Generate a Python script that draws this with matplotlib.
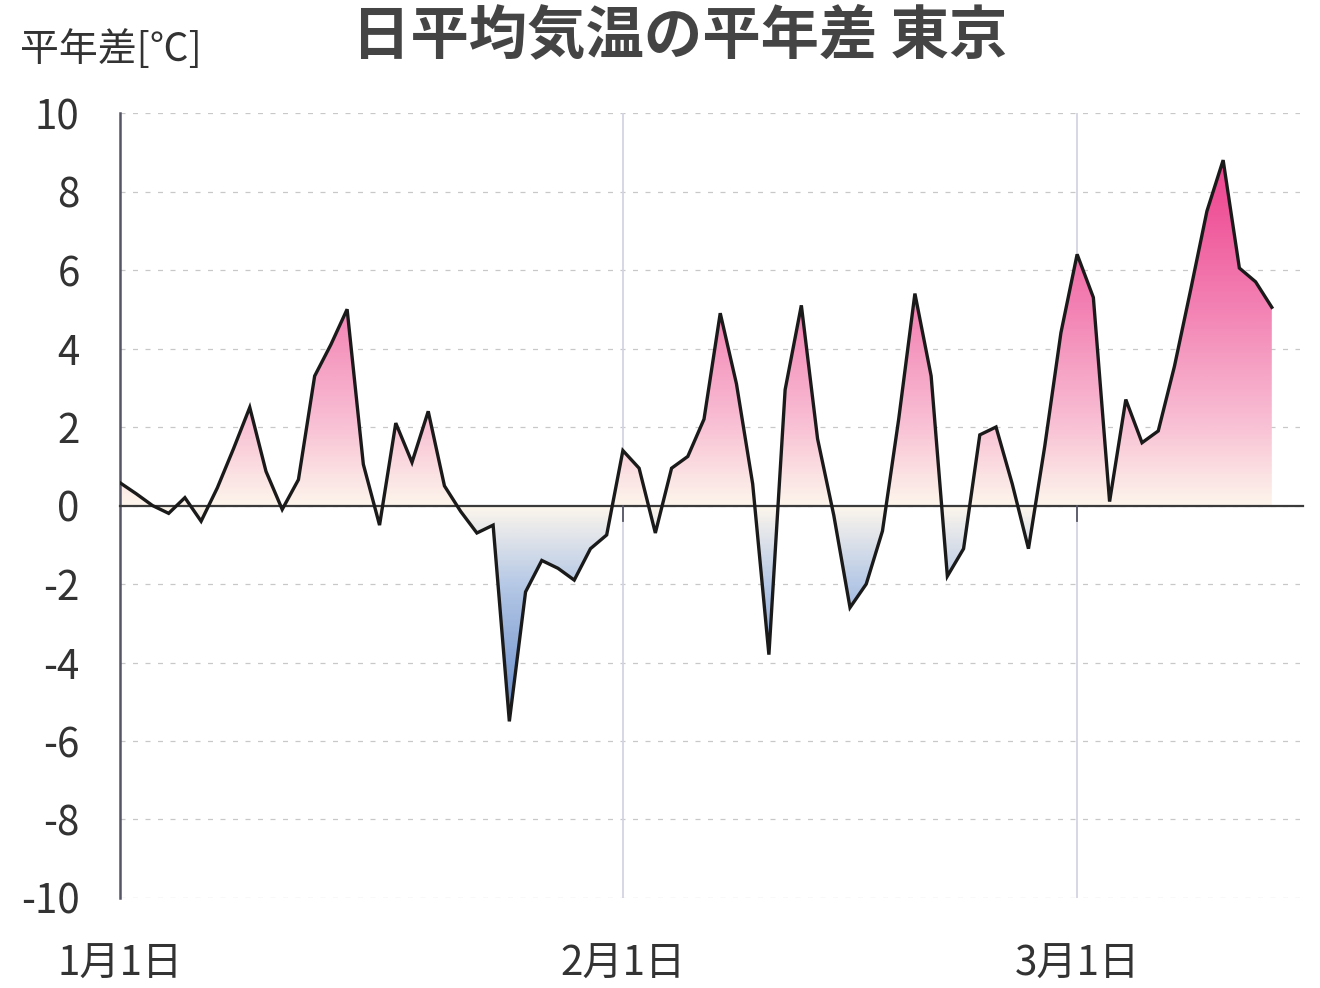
import matplotlib
matplotlib.use("Agg")
import matplotlib.pyplot as plt
import numpy as np
from matplotlib.colors import LinearSegmentedColormap
from matplotlib.path import Path

plt.rcParams['font.family'] = ['Noto Sans CJK JP', 'DejaVu Sans']

# daily mean temperature anomaly, Tokyo, from Jan 1 (day 0)
anomaly = [0.58, 0.3, 0.0, -0.2, 0.2, -0.4, 0.45, 1.45, 2.5, 0.87,
           -0.1, 0.66, 3.3, 4.1, 5.0, 1.05, -0.5, 2.1, 1.1, 2.4,
           0.5, -0.15, -0.7, -0.5, -5.5, -2.2, -1.4, -1.6, -1.9, -1.1,
           -0.75, 1.4, 0.95, -0.7, 0.95, 1.25, 2.2, 4.9, 3.1, 0.55,
           -3.8, 2.95, 5.1, 1.7, -0.25, -2.6, -2.0, -0.65, 2.2, 5.4,
           3.3, -1.8, -1.1, 1.8, 2.0, 0.55, -1.1, 1.5, 4.4, 6.4,
           5.3, 0.1, 2.7, 1.6, 1.9, 3.55, 5.5, 7.5, 8.8, 6.05,
           5.7, 5.05]
days = np.arange(len(anomaly))
month_ticks = [0, 31, 59]
month_labels = ['1月1日', '2月1日', '3月1日']
yticks = list(range(-10, 11, 2))

fig = plt.figure(figsize=(13.2, 9.88), dpi=100)
ax = fig.add_axes([0.0909, 0.0911, 0.8941, 0.7945])
xmax = 72.75
ax.set_xlim(0, xmax)
ax.set_ylim(-10, 10)

# gradient fill clipped to the area between curve and zero
cmap = LinearSegmentedColormap.from_list('anom', [
    (0.0, '#4a72bf'), (0.225, '#6389c9'), (0.4, '#b6c9e6'),
    (0.5, '#fdf6ec'), (0.6, '#f9c2d5'), (0.75, '#f383b4'),
    (0.9, '#ef4f96'), (1.0, '#ec378a')])
grad = np.linspace(-10, 10, 400).reshape(-1, 1)
im = ax.imshow(grad, extent=[0, xmax, -10, 10], origin='lower', aspect='auto',
               cmap=cmap, vmin=-10, vmax=10, zorder=2)
verts = [(days[0], 0)] + list(zip(days, anomaly)) + [(days[-1], 0), (days[0], 0)]
clip = Path(verts)
im.set_clip_path(clip, transform=ax.transData)

# grid
for v in yticks:
    ax.plot([0, xmax], [v, v], color='#c8c8c8', lw=0.9, ls=(0, (4, 6)), zorder=1)
for d in month_ticks[1:]:
    ax.plot([d, d], [-10, 10], color='#d4d4e2', lw=1.3, zorder=1)
    ax.plot([d, d], [0, -0.4], color='#555566', lw=1.3, zorder=4)

ax.plot([0, xmax + 0.2], [0, 0], color='#3a3a3a', lw=1.6, zorder=3, clip_on=False)
ax.plot(days, anomaly, color='#1a1a1a', lw=2.4, zorder=5, solid_joinstyle='miter')

for s in ['top', 'right', 'bottom']:
    ax.spines[s].set_visible(False)
ax.spines['left'].set_color('#555566')
ax.spines['left'].set_linewidth(1.8)

ax.set_yticks(yticks)
ax.set_yticklabels([str(v) for v in yticks])
ax.set_xticks(month_ticks)
ax.set_xticklabels(month_labels)
ax.tick_params(axis='y', length=0, pad=29, labelsize=29, labelcolor='#333333')
ax.tick_params(axis='x', length=0, pad=33, labelsize=29, labelcolor='#333333')

fig.text(680 / 1320, 1 - 36 / 988, '日平均気温の平年差 東京', ha='center', va='center',
         fontsize=42, fontweight='bold', color='#444444')
fig.text(20 / 1320, 1 - 50 / 988, '平年差[℃]', ha='left', va='center',
         fontsize=28, color='#333333')

fig.savefig('out.png', dpi=100, facecolor='white')
